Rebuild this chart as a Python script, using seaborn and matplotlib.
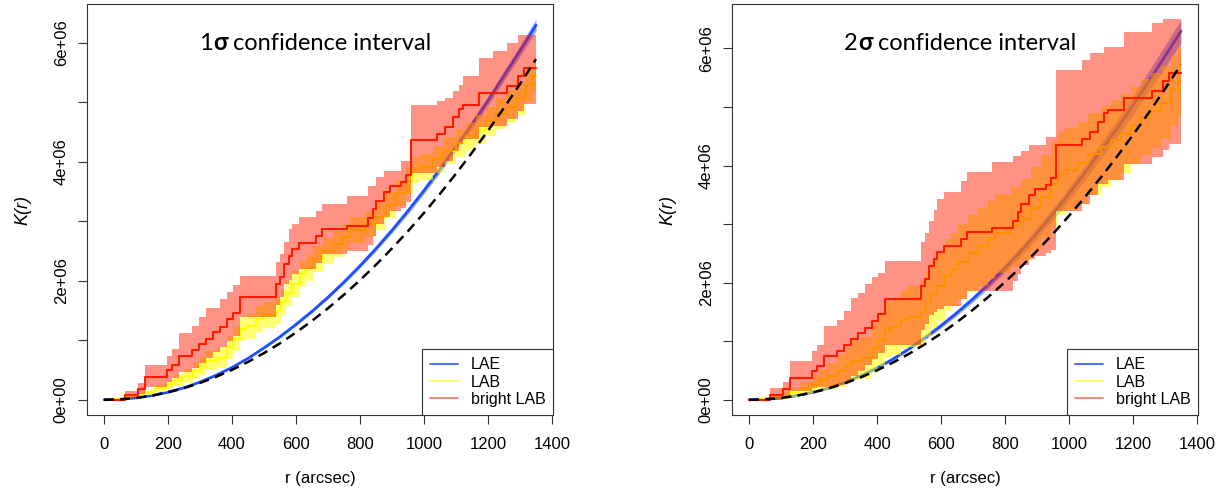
import numpy as np
import seaborn as sns
import matplotlib.pyplot as plt
from matplotlib.lines import Line2D
from matplotlib.ticker import FuncFormatter

# ---- data (K in units of 1e6, r in arcsec) ----
# smooth curves: LAE K(r) and the dashed CSR curve
r_grid = [0, 50, 100, 150, 200, 250, 300, 350, 400, 450, 500, 550, 600, 650,
          700, 750, 800, 850, 900, 950, 1000, 1050, 1100, 1150, 1200, 1250, 1300, 1350]
lae_k = [0, .008, .032, .072, .128, .202, .297, .412, .543, .696, .872, 1.060, 1.267, 1.487,
         1.724, 1.979, 2.252, 2.542, 2.850, 3.176, 3.519, 3.879, 4.257, 4.630, 5.030, 5.449, 5.867, 6.298]
lae_hw_1s = [0, 0, .001, .001, .002, .003, .005, .007, .009, .011, .014, .017, .020, .023,
             .027, .031, .035, .040, .044, .050, .055, .060, .066, .073, .079, .086, .093, .100]
lae_hw_2s = [0, 0, .002, .003, .004, .007, .010, .013, .018, .022, .027, .033, .040, .046,
             .054, .062, .070, .079, .089, .099, .110, .121, .133, .145, .158, .172, .186, .200]
csr_k = [0, .008, .031, .071, .126, .196, .283, .385, .503, .636, .785, .950, 1.131, 1.327,
         1.539, 1.767, 2.011, 2.270, 2.545, 2.835, 3.142, 3.464, 3.801, 4.155, 4.524, 4.909, 5.309, 5.726]

# LAB step function
lab_r = [0, 30, 50, 80, 123, 160, 196, 220, 248, 279, 300, 320, 352, 383, 403, 424, 445, 476, 497, 539,
         554, 570, 586, 612, 632, 653, 684, 716, 747, 768, 820, 851, 882, 913, 944, 965, 986, 1027, 1059, 1100,
         1132, 1163, 1194, 1225, 1256, 1288, 1320, 1340]
lab_k = [0, .01, .03, .06, .12, .19, .26, .33, .40, .49, .57, .66, .71, .88, 1.02, 1.19, 1.24, 1.36, 1.42, 1.50,
         1.64, 1.80, 1.94, 2.12, 2.22, 2.36, 2.50, 2.62, 2.74, 2.85, 2.96, 3.08, 3.27, 3.47, 3.68, 3.86, 3.92, 4.04, 4.19, 4.32,
         4.43, 4.54, 4.68, 4.82, 4.93, 5.07, 5.30, 5.45]
lab_lo_1s = [0, .005, .02, .04, .08, .13, .18, .23, .28, .35, .42, .50, .54, .69, .82, .98, 1.03, 1.14, 1.20, 1.28,
             1.42, 1.58, 1.72, 1.90, 2.00, 2.14, 2.28, 2.40, 2.52, 2.63, 2.74, 2.86, 3.05, 3.25, 3.46, 3.64, 3.70, 3.82, 3.96, 4.09,
             4.19, 4.30, 4.43, 4.56, 4.66, 4.79, 5.01, 5.15]
lab_hi_1s = [0, .015, .04, .08, .16, .25, .34, .43, .52, .63, .72, .82, .88, 1.07, 1.22, 1.40, 1.45, 1.58, 1.64, 1.72,
             1.86, 2.02, 2.16, 2.34, 2.44, 2.58, 2.72, 2.84, 2.96, 3.07, 3.18, 3.30, 3.49, 3.69, 3.90, 4.08, 4.14, 4.26, 4.42, 4.56,
             4.67, 4.78, 4.93, 5.08, 5.20, 5.35, 5.59, 5.75]
lab_lo_2s = [0, 0, .01, .02, .05, .08, .11, .15, .18, .22, .27, .33, .36, .47, .58, .72, .76, .86, .90, .96,
             1.08, 1.22, 1.35, 1.52, 1.60, 1.72, 1.84, 1.95, 2.06, 2.16, 2.26, 2.38, 2.56, 2.74, 2.95, 3.15, 3.22, 3.35, 3.50, 3.64,
             3.76, 3.88, 4.03, 4.18, 4.30, 4.45, 4.68, 4.85]
lab_hi_2s = [0, .02, .05, .10, .20, .31, .42, .52, .63, .77, .88, 1.00, 1.07, 1.30, 1.47, 1.67, 1.73, 1.87, 1.95, 2.05,
             2.20, 2.38, 2.53, 2.74, 2.85, 3.00, 3.15, 3.28, 3.40, 3.52, 3.64, 3.77, 3.97, 4.18, 4.40, 4.58, 4.64, 4.75, 4.90, 5.02,
             5.12, 5.22, 5.35, 5.48, 5.58, 5.70, 5.88, 6.00]

# bright LAB step function
blab_r = [0, 65, 107, 128, 196, 214, 235, 274, 297, 319, 342, 363, 384, 404, 425, 538, 549, 563, 579, 589,
          610, 664, 680, 758, 826, 840, 850, 876, 893, 927, 945, 958, 1042, 1065, 1090, 1110, 1122, 1171, 1215, 1258,
          1294, 1314]
blab_k = [0, .08, .18, .38, .50, .58, .74, .84, .94, 1.03, 1.14, 1.23, 1.35, 1.46, 1.72, 1.94, 2.06, 2.28, 2.41, 2.53,
          2.63, 2.75, 2.87, 2.93, 3.05, 3.20, 3.34, 3.49, 3.60, 3.66, 3.78, 4.36, 4.46, 4.58, 4.75, 4.89, 4.95, 5.15, 5.15, 5.28,
          5.44, 5.58]
blab_lo_1s = [0, .03, .09, .22, .30, .36, .46, .54, .62, .70, .80, .88, .98, 1.08, 1.40, 1.60, 1.72, 1.95, 2.02, 2.12,
              2.20, 2.30, 2.45, 2.50, 2.60, 2.75, 2.95, 3.08, 3.18, 3.22, 3.32, 3.82, 3.92, 4.02, 4.18, 4.30, 4.38, 4.58, 4.60, 4.72,
              4.85, 4.98]
blab_hi_1s = [0, .15, .29, .58, .74, .85, 1.13, 1.24, 1.385, 1.55, 1.55, 1.69, 1.82, 1.93, 2.08, 2.31, 2.45, 2.65, 2.87, 2.95,
              3.07, 3.18, 3.29, 3.42, 3.60, 3.60, 3.74, 3.85, 3.85, 4.02, 4.02, 4.95, 5.03, 5.08, 5.19, 5.29, 5.45, 5.75, 5.87, 6.00,
              6.13, 6.13]
blab_lo_2s = [0, 0, .05, .15, .20, .22, .22, .26, .32, .40, .50, .60, .70, .80, .94, 1.20, 1.30, 1.45, 1.50, 1.55,
              1.60, 1.72, 1.86, 1.86, 2.03, 2.15, 2.30, 2.40, 2.45, 2.50, 2.55, 3.23, 3.35, 3.50, 3.69, 3.69, 3.75, 4.03, 4.03, 4.15,
              4.26, 4.37]
blab_hi_2s = [0, .20, .30, .67, .83, .94, 1.26, 1.37, 1.51, 1.74, 1.83, 1.97, 2.09, 2.17, 2.37, 2.69, 2.85, 3.06, 3.25, 3.43,
              3.55, 3.74, 3.89, 4.06, 4.17, 4.17, 4.25, 4.35, 4.35, 4.49, 4.49, 5.63, 5.80, 5.92, 5.92, 6.03, 6.03, 6.29, 6.29, 6.43,
              6.50, 6.50]

r_max = 1350
legend_labels = ["LAE", "LAB", "bright LAB"]
panel_titles = ["1", "2"]

sns.set_theme(style="ticks")
plt.rcParams["font.family"] = ["Liberation Sans", "DejaVu Sans"]
plt.rcParams.update({"text.color": "black", "axes.labelcolor": "black",
                     "xtick.labelcolor": "black", "ytick.labelcolor": "black"})

c_lae = "#1f4fff"
c_lab = "#ffff00"
c_red = "#ff1a00"


def ext(r, v):
    # extend a step function to the end of the r range
    return np.append(np.array(r, float), r_max), np.append(np.array(v, float), v[-1]) * 1e6


def panel(ax, sig):
    rg = np.array(r_grid, float)
    lk = np.array(lae_k) * 1e6
    hw = np.array(lae_hw_1s if sig == 1 else lae_hw_2s) * 1e6
    ax.fill_between(rg, lk - hw, lk + hw, color=c_lae, alpha=0.45, lw=0, zorder=1.0)
    sns.lineplot(x=rg, y=lk, color=c_lae, lw=2, ax=ax, estimator=None, zorder=1.1)

    lo, hi = (lab_lo_1s, lab_hi_1s) if sig == 1 else (lab_lo_2s, lab_hi_2s)
    x, ylo = ext(lab_r, lo)
    _, yhi = ext(lab_r, hi)
    ax.fill_between(x, ylo, yhi, step="post", color=c_lab, alpha=0.55, lw=0, zorder=1.2)
    x, y = ext(lab_r, lab_k)
    sns.lineplot(x=x, y=y, drawstyle="steps-post", color=c_lab, lw=1.5, ax=ax,
                 estimator=None, zorder=1.3)

    lo, hi = (blab_lo_1s, blab_hi_1s) if sig == 1 else (blab_lo_2s, blab_hi_2s)
    x, ylo = ext(blab_r, lo)
    _, yhi = ext(blab_r, hi)
    ax.fill_between(x, ylo, yhi, step="post", color=c_red, alpha=0.48, lw=0, zorder=1.4)
    x, y = ext(blab_r, blab_k)
    sns.lineplot(x=x, y=y, drawstyle="steps-post", color=c_red, lw=1.5, ax=ax,
                 estimator=None, zorder=1.5)

    sns.lineplot(x=rg, y=np.array(csr_k) * 1e6, color="black", lw=1.8, ax=ax,
                 estimator=None, zorder=1.6)
    ax.lines[-1].set_dashes((4, 2.5))

    # R-like limits: 4% padding around the data
    hws = lae_hw_1s if sig == 1 else lae_hw_2s
    top = max(max(a + b for a, b in zip(lae_k, hws)),
              max(blab_hi_1s if sig == 1 else blab_hi_2s)) * 1e6
    ax.set_xlim(-0.04 * r_max, 1.04 * r_max)
    ax.set_ylim(-0.04 * top, 1.04 * top)

    ax.set_xticks(range(0, 1401, 200))
    ax.set_yticks([i * 1e6 for i in range(7)])
    ax.yaxis.set_major_formatter(FuncFormatter(
        lambda v, p: f"{v:.0e}" if round(v / 1e6) % 2 == 0 else ""))
    ax.tick_params(direction="out", length=6.5, width=0.8, color="#333333",
                   labelsize=12, top=False, right=False)
    ax.tick_params(axis="x", pad=9)
    ax.tick_params(axis="y", pad=6.5)
    plt.setp(ax.get_yticklabels(), rotation=90, va="center")
    for s in ax.spines.values():
        s.set_visible(True)
        s.set_color("#333333")
        s.set_linewidth(0.8)
    ax.set_xlabel("r (arcsec)", fontsize=12, labelpad=14)
    ax.set_ylabel("K(r)", fontsize=13, style="italic", labelpad=16)

    handles = [Line2D([], [], color="#3c64ff", lw=1.3),
               Line2D([], [], color="#ffff66", lw=1.3),
               Line2D([], [], color="#f08070", lw=1.3)]
    leg = ax.legend(handles, legend_labels, loc="lower right", borderaxespad=0,
                    fontsize=11.5, frameon=True, fancybox=False, handlelength=1.75,
                    handletextpad=0.8, labelspacing=0.15, borderpad=0.5)
    leg.get_frame().set_edgecolor("#333333")
    leg.get_frame().set_linewidth(0.8)
    leg.get_frame().set_alpha(1)
    leg.set_zorder(5)

    # title "1σ confidence interval" with a bold sigma
    tf = ["Lato", "DejaVu Sans"]
    t1 = ax.text(0.241, 0.888, panel_titles[sig - 1], transform=ax.transAxes,
                 fontsize=17, family=tf, va="baseline", ha="left")
    t2 = ax.annotate("σ", xy=(1, 0), xycoords=t1, va="bottom", ha="left",
                     fontsize=17, family=tf, fontweight="bold")
    ax.annotate(" confidence interval", xy=(1, 0), xycoords=t2, va="bottom",
                ha="left", fontsize=17, family=tf)


fig = plt.figure(figsize=(12.23, 4.93), dpi=100)
ax1 = fig.add_axes([0.0709, 0.1582, 0.3815, 0.8337])
ax2 = fig.add_axes([0.5983, 0.1582, 0.3815, 0.8337])
panel(ax1, 1)
panel(ax2, 2)

fig.savefig("out.png", dpi=100)
